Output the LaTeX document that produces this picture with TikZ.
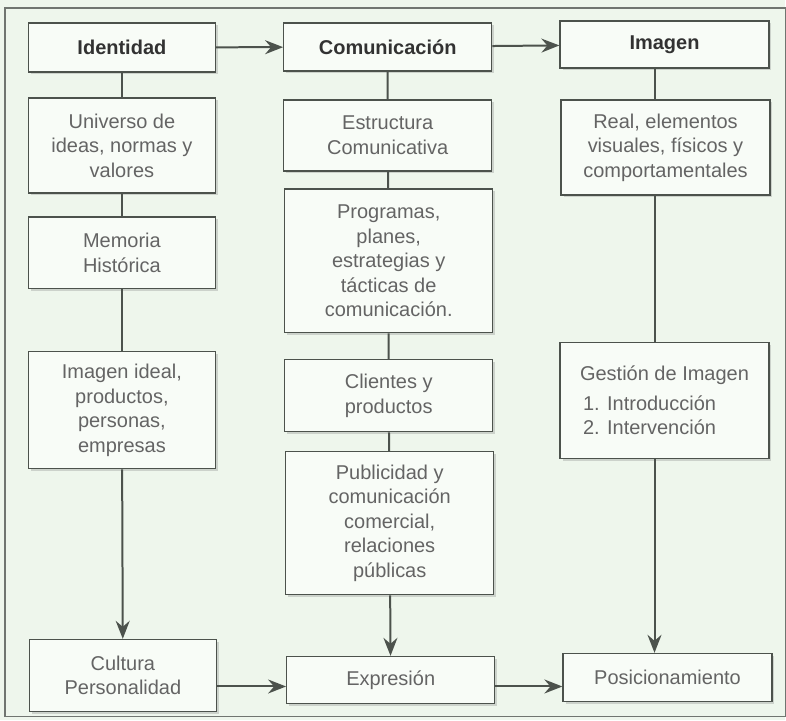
\documentclass[tikz,border=0pt]{standalone}
\usepackage{fontspec}
\setmainfont{Liberation Sans}
\usetikzlibrary{arrows.meta, shadows}
\definecolor{paper}{RGB}{238,246,236}
\definecolor{boxfill}{RGB}{248,252,247}
\definecolor{edgegray}{RGB}{76,82,76}
\definecolor{txtgray}{RGB}{100,100,100}
\definecolor{headgray}{RGB}{50,50,50}

\begin{document}
\begin{tikzpicture}[x=1pt,y=-1pt,
  box/.style={draw=edgegray, line width=1.4pt, fill=boxfill, text=txtgray,
    align=center, inner sep=0pt, minimum width=208pt,
    font=\fontsize{20}{24.5}\selectfont,
    drop shadow={shadow xshift=2.5pt, shadow yshift=-2.5pt, opacity=.3}},
  head/.style={box, text=headgray, font=\fontsize{20}{24}\selectfont\bfseries},
  narrow/.style={minimum width=187pt},
  link/.style={draw=edgegray, line width=2pt},
  >={Stealth[length=18pt, width=14pt, inset=6pt]}]

  % paper and frame
  \fill[paper] (0,0) rectangle (786,721);
  \draw[edgegray!80, line width=1.2pt] (5,8) rectangle (786,717);

  % identidad column
  \node[head, narrow, minimum height=49pt] (ident) at (122,47.5) {Identidad};
  \node[box, narrow, minimum height=95pt] (univ) at (122,145.5) {Universo de\\ideas, normas y\\valores};
  \node[box, narrow, minimum height=72pt] (mem) at (122,253) {Memoria\\Histórica};
  \node[box, narrow, minimum height=117pt] (ideal) at (122,410.5) {Imagen ideal,\\productos,\\personas,\\empresas};
  \node[box, narrow, minimum height=72pt] (cult) at (123,676) {Cultura\\Personalidad};

  % comunicacion column
  \node[head, minimum height=48pt] (comu) at (388,47) {Comunicación};
  \node[box, minimum height=71pt] (estr) at (388,135.5) {Estructura\\Comunicativa};
  \node[box, minimum height=144pt] (prog) at (389,261) {Programas,\\planes,\\estrategias y\\tácticas de\\comunicación.};
  \node[box, minimum height=72pt] (cli) at (389,396) {Clientes y\\productos};
  \node[box, minimum height=143pt] (pub) at (390,523.5) {Publicidad y\\comunicación\\comercial,\\relaciones\\públicas};
  \node[box, minimum height=47pt] (expr) at (391,680.5) {Expresión};

  % imagen column
  \node[head, minimum width=209pt, minimum height=47pt] (img) at (665,44.5) {Imagen};
  \node[box, minimum width=209pt, minimum height=95pt] (real) at (666,147.5) {Real, elementos\\visuales, físicos y\\comportamentales};
  \node[box, minimum width=209pt, minimum height=116pt, align=left] (gest) at (665,401)
    {Gestión de Imagen\\[5pt]\hspace*{3pt}1. Introducción\\\hspace*{3pt}2. Intervención};
  \node[box, minimum width=209pt, minimum height=48pt] (pos) at (668,678) {Posicionamiento};

  \coordinate (imgx) at (655,0);
  \coordinate (flow) at (0,687);

  % plain links inside the columns
  \draw[link] (ident) -- (univ) (univ) -- (mem) (mem) -- (ideal);
  \draw[link] (comu) -- (estr) (estr) -- (prog) (prog) -- (cli) (cli) -- (pub);
  \draw[link] (img.south -| imgx) -- (real.north -| imgx)
              (real.south -| imgx) -- (gest.north -| imgx);

  % arrows
  \draw[link, ->] (ident) -- (comu);
  \draw[link, ->] (comu) -- (img);
  \draw[link, ->] (ideal) -- (cult);
  \draw[link, ->] (pub) -- (expr);
  \draw[link, ->] (gest.south -| imgx) -- (pos.north -| imgx);
  \draw[link, ->] (cult.east |- flow) -- (expr.west |- flow);
  \draw[link, ->] (expr.east |- flow) -- (pos.west |- flow);
\end{tikzpicture}
\end{document}
